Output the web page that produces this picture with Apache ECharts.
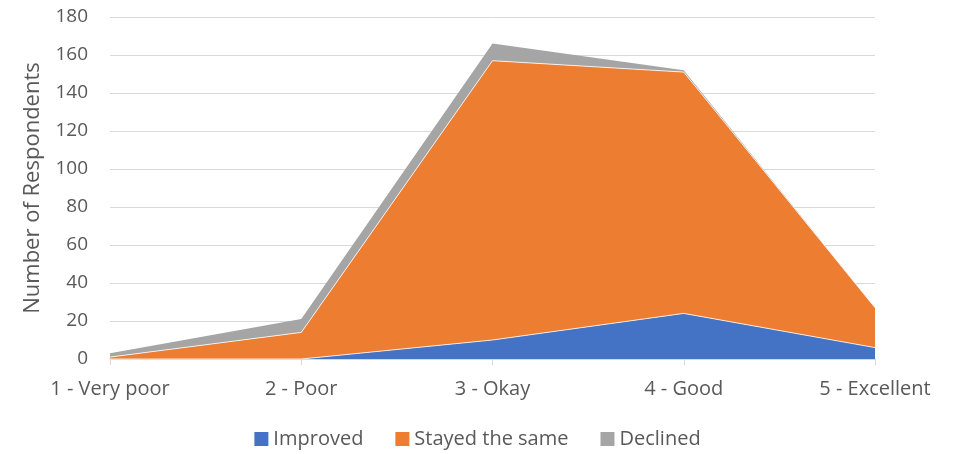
<!DOCTYPE html>
<html><head><meta charset="utf-8">
<script src="https://cdn.jsdelivr.net/npm/echarts@6/dist/echarts.min.js"></script>
<style>html,body{margin:0;padding:0;background:#fff}#c{width:955px;height:454px}</style>
</head><body><div id="c"></div>
<script>
var categories = ['1 - Very poor', '2 - Poor', '3 - Okay', '4 - Good', '5 - Excellent'];
var improved = [0, 0, 10, 24, 6];
var stayed = [1, 14, 147, 127, 21];
var declined = [2, 7, 9, 1, 0];
var seriesNames = ['Improved', 'Stayed the same', 'Declined'];
var colors = ['#4472C4', '#ED7D31', '#A5A5A5'];
var font = 'Open Sans';
var chart = echarts.init(document.getElementById('c'));
function mk(name, data, color, lw) {
  return {
    name: name, type: 'line', stack: 'total', data: data, symbol: 'none',
    lineStyle: { width: lw, color: '#ffffff', opacity: lw ? 0.8 : 0 },
    areaStyle: { color: color, opacity: 1 },
    itemStyle: { color: color }
  };
}
chart.setOption({
  animation: false,
  grid: { left: 110, right: 80, top: 17, bottom: 95, containLabel: false },
  legend: {
    bottom: 0, left: 'center', itemWidth: 14, itemHeight: 14, itemGap: 32,
    icon: 'rect',
    textStyle: { fontFamily: font, fontSize: 20, color: '#595959' },
    data: seriesNames
  },
  xAxis: {
    type: 'category', data: categories, boundaryGap: false,
    axisLine: { lineStyle: { color: '#d9d9d9', width: 1.5 } },
    axisTick: { show: true, alignWithLabel: true, length: 6, lineStyle: { color: '#d9d9d9' } },
    axisLabel: { fontFamily: font, fontSize: 20, color: '#595959', margin: 20 }
  },
  yAxis: {
    type: 'value', min: 0, max: 180, interval: 20,
    name: 'Number of Respondents', nameLocation: 'middle', nameGap: 66,
    nameTextStyle: { fontFamily: font, fontSize: 22, color: '#595959' },
    axisLine: { show: false }, axisTick: { show: false },
    axisLabel: { fontFamily: font, fontSize: 19, color: '#595959', margin: 22 },
    splitLine: { lineStyle: { color: '#d9d9d9', width: 1 } }
  },
  series: [
    mk(seriesNames[0], improved, colors[0], 1),
    mk(seriesNames[1], stayed, colors[1], 1),
    mk(seriesNames[2], declined, colors[2], 0)
  ]
});
</script></body></html>
